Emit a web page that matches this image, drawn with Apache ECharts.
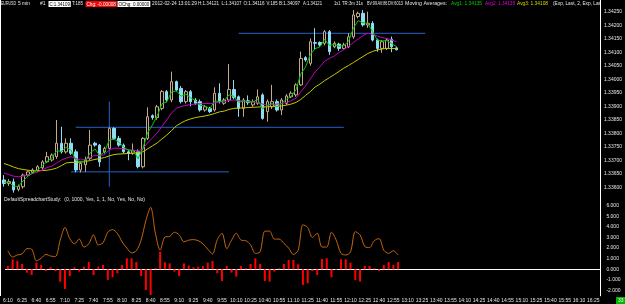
<!DOCTYPE html>
<html><head><meta charset="utf-8">
<script src="https://cdn.jsdelivr.net/npm/echarts@6/dist/echarts.min.js"></script>
<style>html,body{margin:0;padding:0;background:#000;}#c{width:625px;height:304px;}</style>
</head><body><div id="c"></div>
<script>
const categories = ['6:10','6:15','6:20','6:25','6:30','6:35','6:40','6:45','6:50','6:55',
'7:00','7:05','7:10','7:15','7:20','7:25','7:30','7:35','7:40','7:45','7:50','7:55',
'8:00','8:05','8:10','8:15','8:20','8:25','8:30','8:35','8:40','8:45','8:50','8:55',
'9:00','9:05','9:10','9:15','9:20','9:25','9:30','9:35','9:40','9:45','9:50','9:55',
'10:00','10:05','10:10','10:15','10:20','10:25','10:30','10:35','10:40','10:45','10:50','10:55',
'11:00','11:05','11:10','11:15','11:20','11:25','11:30','11:35','11:40','11:45','11:50','11:55',
'12:00','12:05','12:10','12:15','12:20','12:25','12:30','12:35','12:40','12:45','12:50','12:55',
'13:00','13:05','13:10','13:15','13:20','13:25','13:30','13:35','13:40','13:45','13:50','13:55',
'14:00','14:05','14:10','14:15','14:20','14:25','14:30','14:35','14:40','14:45','14:50','14:55',
'15:00','15:05','15:10','15:15','15:20','15:25','15:30','15:35','15:40','15:45','15:50','15:55',
'16:00','16:05','16:10','16:15','16:20','16:25','16:30'];

const opens = [1.33627,1.33614,1.33620,1.33592,1.33602,1.33645,1.33655,1.33662,1.33672,1.33694,
1.33701,1.33713,1.33763,1.33731,1.33763,1.33731,1.33664,1.33683,1.33707,1.33763,
1.33756,1.33731,1.33744,1.33818,1.33781,1.33756,1.33731,1.33726,1.33731,1.33676,
1.33781,1.33865,1.33858,1.33892,1.33954,1.33923,1.33991,1.33966,1.33917,1.33954,
1.33923,1.33917,1.33886,1.33892,1.33886,1.33948,1.33911,1.33923,1.33962,1.33935,
1.33892,1.33920,1.33905,1.33911,1.33942,1.33880,1.33898,1.33917,1.33886,1.33911,
1.33935,1.33942,1.33979,1.34080,1.34059,1.34136,1.34136,1.34133,1.34176,1.34120,
1.34130,1.34114,1.34120,1.34157,1.34232,1.34244,1.34201,1.34207,1.34145,1.34114,
1.34114,1.34148,1.34116];
const closes = [1.33614,1.33621,1.33590,1.33603,1.33645,1.33657,1.33664,1.33676,1.33694,1.33713,
1.33719,1.33763,1.33731,1.33763,1.33726,1.33664,1.33688,1.33701,1.33756,1.33756,
1.33694,1.33744,1.33818,1.33781,1.33756,1.33731,1.33726,1.33735,1.33676,1.33781,
1.33861,1.33858,1.33898,1.33954,1.33923,1.33991,1.33960,1.33917,1.33954,1.33917,
1.33911,1.33886,1.33898,1.33880,1.33948,1.33917,1.33923,1.33962,1.33932,1.33892,
1.33923,1.33913,1.33917,1.33935,1.33855,1.33917,1.33917,1.33886,1.33923,1.33938,
1.33948,1.33979,1.34077,1.34071,1.34139,1.34133,1.34127,1.34176,1.34102,1.34133,
1.34114,1.34127,1.34157,1.34238,1.34244,1.34201,1.34207,1.34145,1.34114,1.34139,
1.34145,1.34120,1.34109];
const lows = [1.33602,1.33605,1.33580,1.33585,1.33595,1.33640,1.33650,1.33658,1.33665,1.33690,
1.33695,1.33705,1.33725,1.33725,1.33720,1.33655,1.33655,1.33657,1.33700,1.33750,
1.33676,1.33725,1.33740,1.33775,1.33750,1.33725,1.33700,1.33720,1.33670,1.33670,
1.33775,1.33850,1.33850,1.33885,1.33915,1.33915,1.33955,1.33910,1.33910,1.33900,
1.33905,1.33880,1.33880,1.33875,1.33880,1.33910,1.33905,1.33915,1.33925,1.33861,
1.33861,1.33905,1.33898,1.33905,1.33850,1.33843,1.33890,1.33880,1.33867,1.33905,
1.33930,1.33935,1.33975,1.34065,1.34050,1.34108,1.34120,1.34125,1.34090,1.34115,
1.34105,1.34110,1.34115,1.34150,1.34225,1.34195,1.34190,1.34140,1.34102,1.34098,
1.34108,1.34100,1.34107];
const highs = [1.33645,1.33630,1.33632,1.33610,1.33650,1.33662,1.33670,1.33682,1.33700,1.33731,
1.33725,1.33849,1.33824,1.33781,1.33781,1.33740,1.33695,1.33713,1.33812,1.33768,
1.33760,1.33750,1.33822,1.33822,1.33790,1.33762,1.33740,1.33762,1.33740,1.33785,
1.33896,1.33870,1.33905,1.33960,1.33960,1.34028,1.33995,1.33975,1.33960,1.33960,
1.33930,1.33925,1.33905,1.33898,1.33970,1.33985,1.33930,1.34056,1.33997,1.33940,
1.33930,1.33940,1.33925,1.33962,1.33948,1.33925,1.33979,1.33925,1.33930,1.33945,
1.33955,1.33985,1.34102,1.34085,1.34151,1.34189,1.34140,1.34182,1.34182,1.34140,
1.34135,1.34135,1.34170,1.34256,1.34250,1.34256,1.34250,1.34215,1.34150,1.34145,
1.34152,1.34158,1.34121];

const avg1 = [1.33619,1.33619,1.33604,1.33603,1.33624,1.33641,1.33652,1.33664,1.33679,1.33696,
1.33708,1.33735,1.33733,1.33748,1.33737,1.33700,1.33694,1.33697,1.33727,1.33742,
1.33718,1.33731,1.33775,1.33778,1.33767,1.33749,1.33737,1.33736,1.33706,1.33743,
1.33802,1.33830,1.33864,1.33909,1.33916,1.33953,1.33957,1.33937,1.33945,1.33931,
1.33921,1.33903,1.33901,1.33890,1.33919,1.33918,1.33920,1.33942,1.33937,1.33914,
1.33919,1.33916,1.33916,1.33926,1.33890,1.33903,1.33910,1.33898,1.33910,1.33926,
1.33937,1.33961,1.34019,1.34045,1.34092,1.34113,1.34120,1.34148,1.34125,1.34129,
1.34122,1.34124,1.34141,1.34189,1.34217,1.34209,1.34207,1.34176,1.34145,1.34142,
1.34143,1.34132,1.34120];
const avg2 = [1.33653,1.33647,1.33641,1.33639,1.33641,1.33645,1.33651,1.33656,1.33664,1.33673,
1.33678,1.33690,1.33701,1.33708,1.33713,1.33706,1.33701,1.33703,1.33710,1.33719,
1.33716,1.33721,1.33738,1.33745,1.33744,1.33742,1.33738,1.33738,1.33734,1.33743,
1.33764,1.33782,1.33801,1.33825,1.33849,1.33875,1.33892,1.33899,1.33903,1.33906,
1.33908,1.33909,1.33910,1.33910,1.33912,1.33916,1.33917,1.33921,1.33923,1.33921,
1.33919,1.33917,1.33916,1.33914,1.33908,1.33904,1.33906,1.33908,1.33910,1.33914,
1.33921,1.33930,1.33953,1.33975,1.34001,1.34027,1.34046,1.34067,1.34077,1.34086,
1.34099,1.34110,1.34121,1.34136,1.34149,1.34162,1.34170,1.34166,1.34160,1.34154,
1.34151,1.34145,1.34139];
const avg3 = [1.33688,1.33682,1.33675,1.33669,1.33666,1.33663,1.33661,1.33661,1.33662,1.33663,
1.33666,1.33671,1.33680,1.33690,1.33692,1.33692,1.33693,1.33695,1.33699,1.33703,
1.33706,1.33710,1.33716,1.33721,1.33723,1.33724,1.33725,1.33726,1.33729,1.33731,
1.33742,1.33753,1.33764,1.33779,1.33793,1.33810,1.33827,1.33838,1.33847,1.33853,
1.33858,1.33861,1.33864,1.33868,1.33873,1.33879,1.33882,1.33888,1.33892,1.33893,
1.33894,1.33895,1.33896,1.33897,1.33898,1.33898,1.33899,1.33900,1.33901,1.33904,
1.33908,1.33914,1.33925,1.33940,1.33954,1.33971,1.33982,1.33995,1.34006,1.34017,
1.34029,1.34041,1.34051,1.34062,1.34073,1.34084,1.34095,1.34103,1.34108,1.34112,
1.34114,1.34114,1.34113];

const spreadLine = [1.75,1.15,1.35,1.45,1.95,1.9,0.8,1.05,1.4,1.25,
1.2,2.75,3.95,2.9,2.4,2.85,2.1,2.4,3.25,2.3,
2.5,3.5,3.75,3.4,2.6,2.0,1.55,1.75,2.75,4.6,
5.85,3.4,1.8,3.05,3.1,3.5,3.25,2.6,2.75,2.8,
2.7,2.4,1.9,1.45,2.8,3.4,1.95,2.75,3.4,2.75,
2.7,2.3,1.5,1.65,3.6,3.6,2.85,2.85,2.45,2.0,
1.4,1.8,4.2,3.95,3.0,3.4,2.1,2.1,3.5,2.75,
1.5,1.35,1.65,3.55,3.25,2.15,2.05,2.7,2.9,1.8,
1.5,1.75,1.35];
const spreadBars = [0.31,0.94,0.78,0.5,-0.32,-0.54,0.62,0.41,-0.16,0.19,
-0.16,-1.17,-1.86,-0.63,0.19,-0.22,0.25,0.69,-0.54,0.25,
0.41,-1.0,-0.75,-0.38,0.41,1.04,1.04,0.69,-0.63,-1.95,
-2.42,0.1,1.66,0.66,0.56,-0.22,-0.63,0.56,0.35,0.19,
0.25,0.3,0.63,0.78,-0.38,-1.1,0.31,-0.31,-0.69,0.31,
0.1,0.5,1.04,0.5,-1.1,-1.16,-0.22,0.1,0.5,0.88,
0.88,0.47,-1.48,-1.32,-0.16,-0.53,0.97,1.04,-0.75,-0.06,
0.94,0.94,0.63,-1.0,-1.16,0.31,0.31,0.1,-0.16,0.41,
0.69,0.41,0.69];

// drawn horizontal / vertical lines: [startIndex, startPrice, endIndex, endPrice]
const drawnLines = [[49,1.34170,88,1.34170],[15,1.33822,71,1.33822],[14,1.33657,47,1.33657],[22,1.33917,22,1.33602]];
const lastPrice = 1.34109;

const FONT = 'Liberation Sans';
const TXT = '#e6e6e6';
const BLUE = '#2463c8';
const chart = echarts.init(document.getElementById('c'), null, {renderer:'canvas'});
const candleData = opens.map((o,i)=>[o, closes[i], lows[i], highs[i]]);

// header texts: start x and target width (px) in the picture
const headerParts = [
  {t:'EURUSD', x:1, w:15}, {t:'5 min', x:18, w:12}, {t:'#1', x:40, w:5.5},
  {t:'C:1.34109', x:48.5, w:20.5, bg:'#ffffff', c:'#000'},
  {t:'T:185', x:72, w:11},
  {t:'Chg: -0.00008', x:85.5, w:29.5, bg:'#ff0000', c:'#ffffff'},
  {t:'OChg: 0.00000', x:117.5, w:31, bg:'#ffffff', c:'#000'},
  {t:'2012-02-24 13:01:29', x:152, w:45}, {t:'H:1.34121', x:198, w:21}, {t:'L:1.34107', x:221.5, w:20},
  {t:'O:1.34116', x:243.5, w:21}, {t:'V:185', x:266.5, w:11}, {t:'B:1.34097', x:279, w:21},
  {t:'A:1.34121', x:303, w:19},
  {t:'1x1', x:334, w:6.5}, {t:'TR:3m 31s', x:342, w:21}, {t:'BV:99', x:367, w:10}, {t:'AV:86', x:377.5, w:10},
  {t:'DV:6013', x:388, w:15}, {t:'Moving Averages:', x:405, w:42},
  {t:'Avg1: 1.34135', x:451, w:31, c:'#00d000'}, {t:'Avg2: 1.34138', x:485, w:30, c:'#e000e0'},
  {t:'Avg3: 1.34108', x:517, w:31, c:'#d8d800'}, {t:'(Exp, Last, 2, Exp, Las', x:553, w:48}
];
const mctx = document.createElement('canvas').getContext('2d');
mctx.font = '5px "Liberation Sans"';
function sx(t, w){ const n = mctx.measureText(t).width; return n > 0 ? w / n : 1; }

const graphics = headerParts.map(p => ({
  type:'text', x:p.x, y:1, scaleX:sx(p.t, p.w), z:100,
  style:{text:p.t, x:0, y:0, fill:p.c||TXT, fontSize:5, fontFamily:FONT, verticalAlign:'top',
    backgroundColor:p.bg||'transparent', padding:p.bg?[1,1,0,1]:0}
}));
const studyLabel = 'DefaultSpreadchartStudy:  (0, 1000, Yes, 1, 1, No, Yes, No, No)';
graphics.push({type:'text', x:4, y:197.5, scaleX:sx(studyLabel, 141), z:100,
  style:{text:studyLabel, x:0, y:0, verticalAlign:'top', fill:TXT, fontSize:5, fontFamily:FONT}});
graphics.push({type:'text', x:616, y:297, z:100,
  style:{text:'33', x:0, y:0, verticalAlign:'top', fill:'#eaffea', fontSize:5, fontFamily:FONT, backgroundColor:'#00b400', padding:[1,2,1,2]}});
graphics.push({type:'line', z:100, shape:{x1:0.5,y1:0,x2:0.5,y2:296}, style:{stroke:'#ffffff', lineWidth:1}});
graphics.push({type:'line', z:100, shape:{x1:600.5,y1:0,x2:600.5,y2:296}, style:{stroke:'#ffffff', lineWidth:1}});

const priceFmt = v => (Math.abs(Math.round(v*2000) - v*2000) < 1e-4) ? v.toFixed(5) : '';
const studyFmt = v => (Math.abs(Math.round(v) - v) < 1e-6 && v <= 6) ? v.toFixed(3) : '';

const drawingSeries = drawnLines.map((l, k) => ({
  type:'line', name:'Drawing ' + (k+1), xAxisIndex:0, yAxisIndex:0,
  data:[[categories[l[0]], l[1]], [categories[l[2]], l[3]]],
  symbol:'none', z:1, silent:true, color:BLUE,
  lineStyle:{color:BLUE, width:1, type:'solid'}, emphasis:{disabled:true}
}));

const option = {
  backgroundColor:'#000',
  animation:false,
  graphic: graphics,
  grid:[{left:1.6, right:24.6, top:9, height:185},{left:1.6, right:24.6, top:195.1, height:100.7}],
  xAxis:[
    {type:'category', gridIndex:0, data:categories, boundaryGap:true,
     axisLine:{show:false}, axisTick:{show:false}, axisLabel:{show:false}, splitLine:{show:false}},
    {type:'category', gridIndex:1, data:categories, boundaryGap:true,
     axisLine:{show:true, lineStyle:{color:'#ffffff', width:1}}, axisTick:{show:false},
     axisLabel:{interval:2, color:TXT, fontSize:5, fontFamily:FONT, margin:2}, splitLine:{show:false}}
  ],
  yAxis:[
    {type:'value', gridIndex:0, position:'right', min:1.33575, max:1.34260, interval:0.00005,
     splitLine:{show:false}, axisLine:{show:true, lineStyle:{color:'#ffffff'}}, axisTick:{show:false},
     axisLabel:{formatter:priceFmt, color:TXT, fontSize:5, fontFamily:FONT, margin:4}},
    {type:'value', gridIndex:1, position:'right', min:-2.5, max:7, interval:0.5,
     splitLine:{show:false}, axisLine:{show:true, lineStyle:{color:'#ffffff'}}, axisTick:{show:false},
     axisLabel:{formatter:studyFmt, color:TXT, fontSize:5, fontFamily:FONT, margin:6}}
  ],
  series:[
    {type:'candlestick', name:'EURUSD', xAxisIndex:0, yAxisIndex:0, data:candleData, barWidth:3, z:2,
     itemStyle:{color:'#000000', color0:'#8edcf6', borderColor:'#c4aa88', borderColor0:'#8edcf6', borderWidth:1},
     markLine:{silent:true, symbol:['none','none'], animation:false,
       lineStyle:{opacity:0, width:0},
       data:[{yAxis:lastPrice, label:{show:true, position:'end', distance:2, formatter:lastPrice.toFixed(5),
         color:'#000', backgroundColor:'#ffffff', fontSize:5, fontFamily:FONT, padding:[2,1,1,1]}}]}},
    ...drawingSeries,
    {type:'line', name:'Avg3', xAxisIndex:0, yAxisIndex:0, data:avg3, symbol:'none', z:3,
     lineStyle:{color:'#c8c800', width:1}},
    {type:'line', name:'Avg2', xAxisIndex:0, yAxisIndex:0, data:avg2, symbol:'none', z:3,
     lineStyle:{color:'#c000c0', width:1}},
    {type:'line', name:'Avg1', xAxisIndex:0, yAxisIndex:0, data:avg1, symbol:'none', z:4,
     lineStyle:{color:'#00c800', width:1}},
    {type:'bar', name:'SpreadBars', xAxisIndex:1, yAxisIndex:1, data:spreadBars, barWidth:2,
     itemStyle:{color:'#ff0000'}},
    {type:'line', name:'Spread', xAxisIndex:1, yAxisIndex:1, data:spreadLine, symbol:'none', smooth:0.3,
     lineStyle:{color:'#c8660a', width:1}}
  ]
};
chart.setOption(option);
</script>
</body></html>
